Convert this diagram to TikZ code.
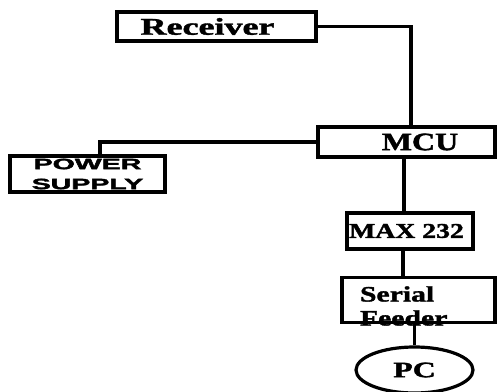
\documentclass[tikz,border=0pt]{standalone}
\usepackage{fontspec}
\usepackage{graphicx}
\setmainfont{Liberation Serif}[BoldFeatures={FakeBold=1.5}]
\newfontfamily\blocksans{Liberation Sans}[BoldFeatures={FakeBold=2}]
\usetikzlibrary{shapes.geometric}

\newcommand{\widen}[2]{\scalebox{#1}[1]{#2}}

\begin{document}
\begin{tikzpicture}[x=1pt,y=-1pt,
    block/.style={draw, line width=3.2pt, inner sep=0pt, font=\bfseries},
    wire/.style={line width=3.2pt}
]

% Canvas
\useasboundingbox[fill=white] (0,0) rectangle (497,391);

% Draw the blocks
\node[block, minimum width=199pt, minimum height=29pt, font=\bfseries\fontsize{24}{24}\selectfont]
    (receiver) at (216.5, 26.5) {\widen{1.5}{Receiver}\hspace*{18pt}};
\node[block, minimum width=177pt, minimum height=30pt, font=\bfseries\fontsize{25}{25}\selectfont]
    (mcu) at (406.5, 142) {\hspace*{27pt}\widen{1.28}{MCU}};
\node[block, minimum width=155pt, minimum height=36pt, align=center,
    font=\blocksans\bfseries\fontsize{15}{20}\selectfont]
    (psu) at (87.5, 174) {\widen{1.9}{POWER}\\\widen{1.9}{SUPPLY}};
\node[block, minimum width=126pt, minimum height=36pt, font=\bfseries\fontsize{21}{21}\selectfont]
    (max) at (410, 231) {\widen{1.32}{MAX 232}\hspace*{7pt}};
\node[block, minimum width=153pt, minimum height=45pt,
    label={[yshift=-6pt, text width=117pt, align=left, inner sep=0pt,
            font=\bfseries\fontsize{22}{24}\selectfont]center:\widen{1.35}{Serial}\\\widen{1.35}{Feeder}}]
    (feeder) at (418.5, 300) {};
\node[block, ellipse, minimum width=117pt, minimum height=46pt, font=\bfseries\fontsize{22}{22}\selectfont]
    (pc) at (414.5, 370) {\widen{1.45}{PC}};

% Connectors between the blocks
\draw[wire] (receiver.east) -| ([xshift=4.5pt]mcu.north);
\draw[wire] (mcu.west) -| ([xshift=12.5pt]psu.north);
\draw[wire] ([xshift=-2.5pt]mcu.south) -- ([xshift=-2.5pt]mcu.south |- max.north);
\draw[wire] ([xshift=-7pt]max.south) -- ([xshift=-7pt]max.south |- feeder.north);
\draw[wire] (pc.north |- feeder.south) -- (pc.north);

\end{tikzpicture}
\end{document}
